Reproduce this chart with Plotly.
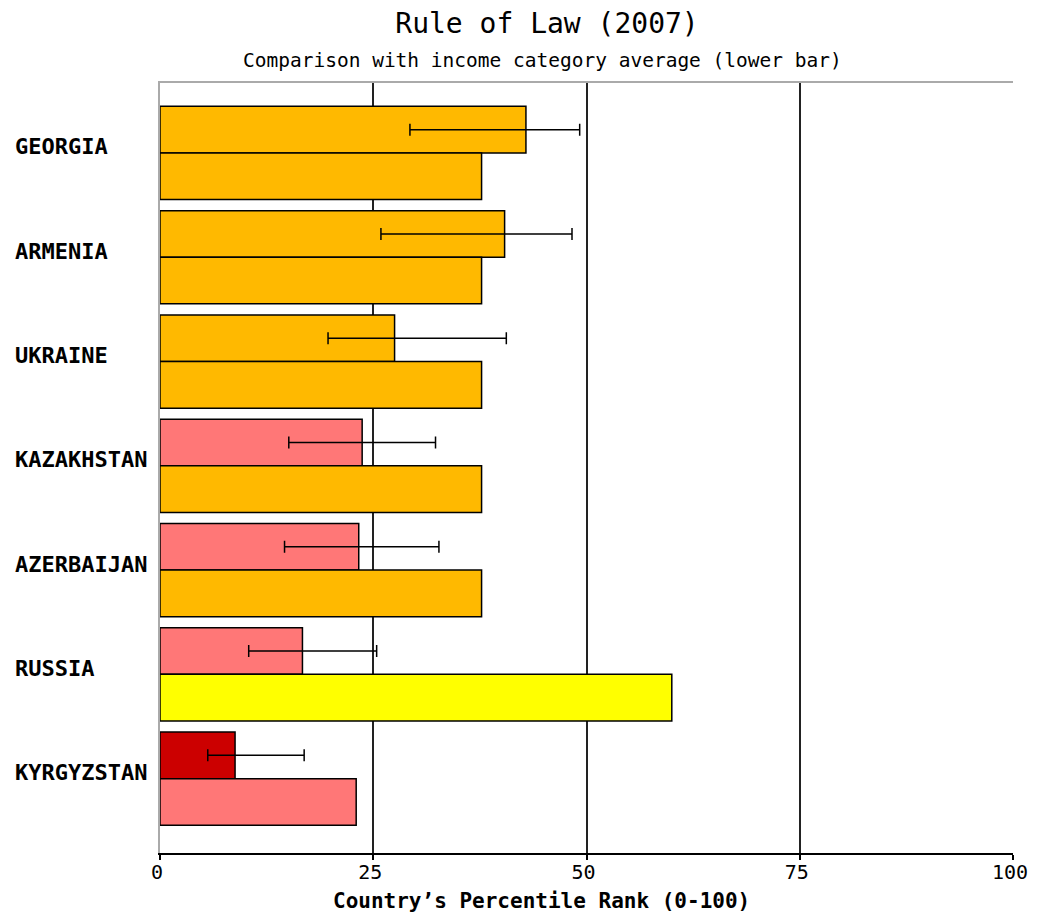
import plotly.graph_objects as go

countries = ["GEORGIA", "ARMENIA", "UKRAINE", "KAZAKHSTAN", "AZERBAIJAN", "RUSSIA", "KYRGYZSTAN"]
country_rank = [42.9, 40.4, 27.5, 23.7, 23.3, 16.7, 8.8]
ci_low = [29.3, 25.9, 19.7, 15.1, 14.6, 10.4, 5.6]
ci_high = [49.2, 48.3, 40.6, 32.3, 32.7, 25.4, 16.9]
income_avg = [37.7, 37.7, 37.7, 37.7, 37.7, 60.0, 23.0]
x_ticks = [0, 25, 50, 75, 100]

bins = [10, 25, 50, 75, 90]
bin_colors = ["#CC0000", "#FF7777", "#FFB900", "#FFFF00", "#99CC00", "#009900"]


def color_for(v):
    for b, c in zip(bins, bin_colors):
        if v < b:
            return c
    return bin_colors[-1]


FONT = "DejaVu Sans Mono"
ypos = list(range(len(countries)))

fig = go.Figure()
fig.add_trace(go.Bar(
    y=ypos, x=country_rank, orientation="h",
    marker=dict(color=[color_for(v) for v in country_rank], line=dict(color="black", width=1.5)),
    error_x=dict(type="data", symmetric=False,
                 array=[h - v for h, v in zip(ci_high, country_rank)],
                 arrayminus=[v - l for v, l in zip(country_rank, ci_low)],
                 color="black", thickness=1.5, width=6),
    showlegend=False, hoverinfo="x",
))
fig.add_trace(go.Bar(
    y=ypos, x=income_avg, orientation="h",
    marker=dict(color=[color_for(v) for v in income_avg], line=dict(color="black", width=1.5)),
    showlegend=False, hoverinfo="x",
))
# empty trace so the top frame axis gets drawn
fig.add_trace(go.Scatter(x=[], y=[], xaxis="x2", yaxis="y", showlegend=False, hoverinfo="skip"))

for i, name in enumerate(countries):
    fig.add_annotation(x=-0.172, xref="paper", xanchor="left", y=i, yref="y", yshift=6,
                       text="<b>%s</b>" % name, showarrow=False,
                       font=dict(family=FONT, size=22, color="black"))

fig.add_annotation(x=0.447, xref="paper", xanchor="center", y=-0.0628, yref="paper", yanchor="middle",
                   text="<b>Country\u2019s Percentile Rank (0-100)</b>", showarrow=False,
                   font=dict(family=FONT, size=21, color="black"))
fig.add_annotation(x=0.449, xref="paper", xanchor="center", y=1.0295, yref="paper",
                   yanchor="middle", text="Comparison with income category average (lower bar)",
                   showarrow=False, font=dict(family=FONT, size=19.5, color="black"))

fig.update_layout(
    width=1032, height=906,
    margin=dict(l=152, r=16, t=75, b=61),
    paper_bgcolor="white", plot_bgcolor="white",
    barmode="group", bargap=0.106, bargroupgap=0,
    title=dict(text="Rule of Law (2007)", x=0.5223, xref="container", xanchor="center",
               y=1 - 15 / 906, yref="container", yanchor="middle",
               font=dict(family=FONT, size=28, color="black")),
    xaxis=dict(range=[0, 100], tickvals=x_ticks, ticktext=[str(t) for t in x_ticks],
               showgrid=True, gridcolor="#222222", gridwidth=1.5, zeroline=False,
               showline=True, linecolor="black", linewidth=1.5,
               ticks="outside", ticklen=5, tickwidth=1.5, tickcolor="black",
               ticklabelstandoff=-5, ticklabelshift=-3,
               tickfont=dict(family=FONT, size=20, color="black")),
    xaxis2=dict(range=[0, 100], overlaying="x", side="top", anchor="y", showline=True,
                linecolor="#AAAAAA", linewidth=1.5, showticklabels=False, showgrid=False,
                zeroline=False, ticks=""),
    yaxis=dict(range=[6.713, -0.671], showticklabels=False, showgrid=False, zeroline=False,
               showline=True, linecolor="#AAAAAA", linewidth=1.5, ticks=""),
)

fig.write_html("out.html", config={"displayModeBar": False})
